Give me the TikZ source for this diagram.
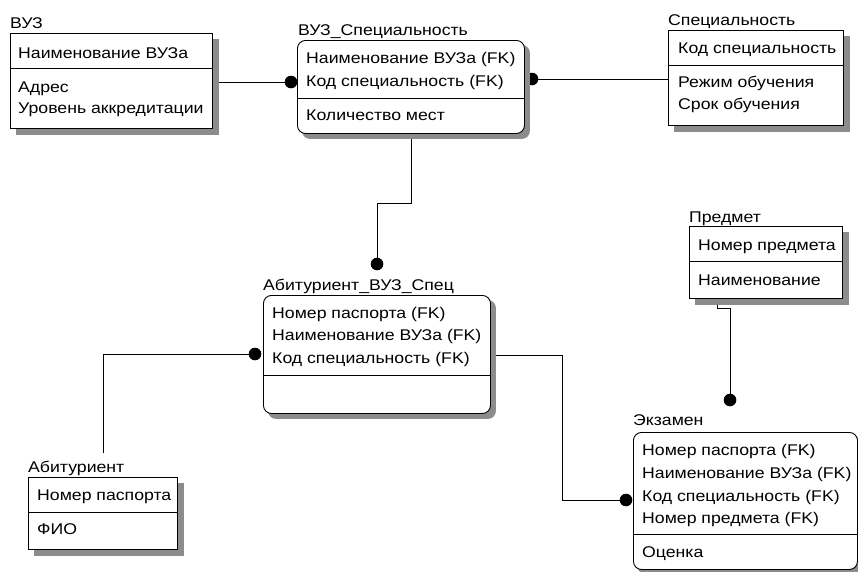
\documentclass[tikz,border=0pt]{standalone}
\usepackage{fontspec}
\setmainfont[FakeStretch=1.14]{Liberation Sans}
\pgfdeclarelayer{bg}
\pgfdeclarelayer{shad}
\pgfsetlayers{bg,shad,main}
\begin{document}
\begin{tikzpicture}[x=1pt,y=-1pt,
  ent/.style={draw, line width=0.9pt, fill=white, anchor=north west, inner sep=0pt},
  dep/.style={ent, rounded corners=8pt},
  txt/.style={anchor=base west, inner sep=0pt, font=\fontsize{15.5}{18}\selectfont},
  divl/.style={line width=0.9pt},
  conn/.style={line width=0.9pt},
  dot/.style={fill=black},
  shd/.style={fill=black!45}
]
\useasboundingbox (0,0) rectangle (858,571);

% ---------- boxes ----------
\node[ent, minimum width=202pt, minimum height=95pt] (vuz) at (10,33) {};
\node[dep, minimum width=227pt, minimum height=93pt] (vuzspec) at (297,40) {};
\node[ent, minimum width=175pt, minimum height=95pt] (spec) at (668,30) {};
\node[dep, minimum width=227pt, minimum height=118pt] (abvs) at (263,295) {};
\node[ent, minimum width=153pt, minimum height=72pt] (pred) at (689,226) {};
\node[ent, minimum width=149pt, minimum height=72pt] (abit) at (28,477) {};
\node[dep, minimum width=224pt, minimum height=137pt] (exam) at (633,432) {};

% ---------- shadows ----------
\begin{pgfonlayer}{shad}
\foreach \n in {vuz,spec,pred,abit}{
  \fill[shd] ([shift={(6pt,-6pt)}]\n.north west) rectangle ([shift={(6pt,-6pt)}]\n.south east);
}
\foreach \n in {vuzspec,abvs,exam}{
  \fill[shd, rounded corners=8pt] ([shift={(5pt,-5pt)}]\n.north west) rectangle ([shift={(5pt,-5pt)}]\n.south east);
}
\end{pgfonlayer}

% ---------- dividers ----------
\draw[divl] (vuz.west |- 0,68) -- (vuz.east |- 0,68);
\draw[divl] (vuzspec.west |- 0,98) -- (vuzspec.east |- 0,98);
\draw[divl] (spec.west |- 0,65) -- (spec.east |- 0,65);
\draw[divl] (abvs.west |- 0,375) -- (abvs.east |- 0,375);
\draw[divl] (pred.west |- 0,261) -- (pred.east |- 0,261);
\draw[divl] (abit.west |- 0,512) -- (abit.east |- 0,512);
\draw[divl] (exam.west |- 0,534) -- (exam.east |- 0,534);

% ---------- titles ----------
\node[txt] (t1) at (10,28) {ВУЗ};
\node[txt] (t2) at (298,35) {ВУЗ\_Специальность};
\node[txt] (t3) at (668,25) {Специальность};
\node[txt] (t4) at (263,290) {Абитуриент\_ВУЗ\_Спец};
\node[txt] (t5) at (689,222) {Предмет};
\node[txt] (t6) at (28,472) {Абитуриент};
\node[txt] (t7) at (633,425) {Экзамен};

% ---------- rows ----------
\node[txt] (r11) at (18,58) {Наименование ВУЗа};
\node[txt] (r12) at (18,92) {Адрес};
\node[txt] (r13) at (18,113) {Уровень аккредитации};

\node[txt] (r21) at (306,63) {Наименование ВУЗа (FK)};
\node[txt] (r22) at (306,86) {Код специальность (FK)};
\node[txt] (r23) at (306,120) {Количество мест};

\node[txt] (r31) at (678,53) {Код специальность};
\node[txt] (r32) at (678,87) {Режим обучения};
\node[txt] (r33) at (678,109) {Срок обучения};

\node[txt] (r41) at (272,318) {Номер паспорта (FK)};
\node[txt] (r42) at (272,340) {Наименование ВУЗа (FK)};
\node[txt] (r43) at (272,363) {Код специальность (FK)};

\node[txt] (r51) at (698,250) {Номер предмета};
\node[txt] (r52) at (698,285) {Наименование};

\node[txt] (r61) at (37,500) {Номер паспорта};
\node[txt] (r62) at (37,534) {ФИО};

\node[txt] (r71) at (642,455) {Номер паспорта (FK)};
\node[txt] (r72) at (642,478) {Наименование ВУЗа (FK)};
\node[txt] (r73) at (642,501) {Код специальность (FK)};
\node[txt] (r74) at (642,523) {Номер предмета (FK)};
\node[txt] (r75) at (642,557) {Оценка};

% ---------- connectors ----------
\coordinate (d1) at (291,82);
\coordinate (d2) at (532,79);
\coordinate (d3) at (377,264);
\coordinate (j3) at (377,203);
\coordinate (d4) at (255,354);
\coordinate (j4) at (103,453);
\coordinate (d5) at (626,500);
\coordinate (d6) at (730,400);

\begin{pgfonlayer}{bg}
\draw[conn] (vuz.east |- d1) -- (d1);
\draw[conn] (d2) -- (spec.west |- d2);
\fill[dot] (d2) circle (6.3pt);
\draw[conn] (vuzspec.south) |- (j3) -- (d3);
\draw[conn] (j4) |- (d4);
\draw[conn] (abvs.east |- 0,355) -| (d5 -| 562,0) -- (d5);
\draw[conn] (pred.south -| 717,0) -- (717,308) -- (730,308) -- (d6);
\end{pgfonlayer}
\fill[dot] (d1) circle (6.3pt);
\fill[dot] (d3) circle (6.3pt);
\fill[dot] (d4) circle (6.3pt);
\fill[dot] (d5) circle (6.3pt);
\fill[dot] (d6) circle (6.3pt);
\end{tikzpicture}
\end{document}
